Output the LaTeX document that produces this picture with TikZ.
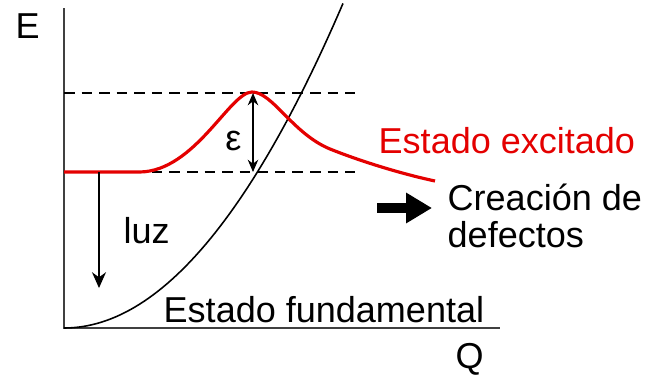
\documentclass[tikz,border=0pt]{standalone}
\usepackage{fontspec}
\setmainfont{Liberation Sans}
\usetikzlibrary{arrows.meta}
\definecolor{exred}{RGB}{228,0,0}

\begin{document}
\begin{tikzpicture}[line width=0.8pt,>=Stealth,font=\fontsize{20.5}{21}\selectfont]
\useasboundingbox (0,0) rectangle (12.96,7.52);
% axes
\coordinate (O) at (1.28,0.96);
\coordinate (Etop) at (1.28,7.36);
\coordinate (Qend) at (10.0,0.96);
\draw[black!75,line width=1pt] (Etop) -- (O) -- (Qend);
\node[anchor=base west,inner sep=0] (E) at (0.30,6.76) {E};
\node[anchor=base west,inner sep=0] (Q) at (9.10,0.16) {Q};
% energy levels
\coordinate (hiL) at (1.28,5.66);
\coordinate (hiR) at (7.10,5.66);
\coordinate (loL) at (1.28,4.08);
\coordinate (loR) at (7.10,4.08);
\draw[dashed,dash pattern=on 6pt off 4pt,line width=0.9pt] (hiL) -- (hiR);
\draw[dashed,dash pattern=on 6pt off 4pt,line width=0.9pt] (loL) -- (loR);
% ground state
\draw[line width=0.9pt,domain=1.28:6.86,samples=60] plot (\x,{0.96+0.2085*(\x-1.28)^2});
\node[anchor=base west,inner sep=0] (fund) at (3.26,1.08) {Estado fundamental};
% excited state
\draw[exred,line width=1.8pt] (1.28,4.08) -- (2.8,4.08)
  .. controls (3.9,4.10) and (4.6,5.68) .. (5.04,5.68)
  .. controls (5.45,5.68) and (5.85,4.85) .. (6.6,4.54)
  .. controls (7.2,4.30) and (8.0,4.05) .. (8.70,3.90);
\node[anchor=base west,inner sep=0,text=exred] (exc) at (7.56,4.46) {Estado excitado};
% barrier
\coordinate (peak) at (5.06,5.66);
\coordinate (base) at (5.06,4.08);
\draw[<->,>={Stealth[length=7pt,width=6pt]}] (peak) -- (base);
\node[anchor=base,inner sep=0] (eps) at (4.67,4.52) {ε};
% emission
\coordinate (luzA) at (1.98,4.08);
\coordinate (luzB) at (1.98,1.76);
\draw[->,>={Stealth[length=9pt,width=8pt]}] (luzA) -- (luzB);
\node[anchor=base west,inner sep=0] (luz) at (2.46,2.66) {luz};
% defects
\coordinate (arA) at (7.54,3.36);
\coordinate (arB) at (8.64,3.36);
\draw[line width=5.5pt,-{Triangle[length=0.52cm,width=0.58cm]}] (arA) -- (arB);
\node[anchor=base west,align=left,inner sep=0] (def) at (8.94,2.58) {Creación de\\defectos};
\end{tikzpicture}
\end{document}
